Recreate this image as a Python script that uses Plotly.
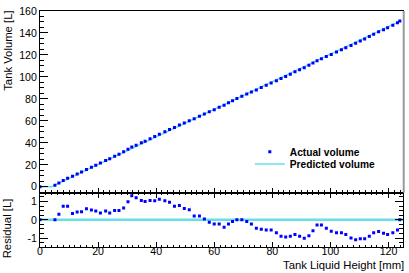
import plotly.graph_objects as go

# ---- data ----
height_mm = [0, 5.14, 6.5, 8.0, 9.5, 11.2, 12.8, 14.3, 16.0, 17.7, 19.2, 20.8, 22.6, 24.0, 25.7,
             27.2, 28.8, 30.3, 31.6, 33.1, 34.9, 36.2, 37.9, 39.5, 41.1, 43.0, 44.6, 46.3, 48.0,
             49.7, 51.4, 53.1, 54.9, 56.6, 58.3, 60.0, 61.7, 63.4, 64.9, 66.3, 67.8, 69.5, 71.2,
             72.8, 74.5, 76.2, 77.9, 79.6, 81.4, 83.0, 84.6, 86.2, 87.8, 89.4, 91.0, 92.6, 94.0,
             95.4, 96.9, 98.6, 100.3, 102.1, 103.8, 105.3, 107.1, 108.7, 110.3, 111.8, 113.4,
             114.9, 116.6, 118.3, 119.7, 121.5, 123.1, 123.9]
actual_L = [0, 1.5, 3.5, 5.8, 7.7, 9.5, 11.6, 13.4, 15.7, 17.8, 19.6, 21.6, 23.9, 25.6, 27.8,
            29.7, 31.9, 34.1, 36.1, 37.8, 40.0, 41.5, 43.7, 45.7, 47.8, 50.1, 52.1, 54.0, 56.2,
            58.1, 60.2, 62.0, 64.2, 66.2, 68.2, 70.2, 72.4, 74.3, 76.4, 78.3, 80.3, 82.4, 84.4,
            86.3, 88.2, 90.3, 92.4, 94.5, 96.6, 98.5, 100.4, 102.5, 104.6, 106.5, 108.4, 110.6,
            112.6, 114.7, 116.6, 118.5, 120.5, 122.7, 124.8, 126.6, 128.7, 130.6, 132.7, 134.5,
            136.7, 138.8, 141.0, 143.0, 144.7, 147.0, 149.2, 150.8]
residual_L = [0, 0, 0.30, 0.74, 0.74, 0.34, 0.43, 0.44, 0.60, 0.53, 0.48, 0.37, 0.48, 0.37, 0.51,
              0.51, 0.64, 0.98, 1.31, 1.20, 1.05, 0.99, 1.05, 1.03, 1.12, 1.03, 0.96, 0.74, 0.78,
              0.62, 0.55, 0.21, 0.20, 0.04, -0.14, -0.23, -0.23, -0.41, -0.23, -0.09, 0.0, 0.0,
              -0.09, -0.23, -0.46, -0.51, -0.55, -0.55, -0.71, -0.90, -0.94, -0.90, -0.80, -0.90,
              -1.01, -0.87, -0.59, -0.28, -0.28, -0.46, -0.62, -0.71, -0.71, -0.80, -0.99, -1.08,
              -1.03, -1.03, -0.90, -0.71, -0.64, -0.73, -0.80, -0.71, -0.55, 0.0]
pred_h = [0, 3.95, 123.9]
pred_L = [0, 0, 150.8]
zero_x = [0, 125]
zero_y = [0, 0]

x_ticks = [0, 20, 40, 60, 80, 100, 120]
vol_ticks = [0, 20, 40, 60, 80, 100, 120, 140, 160]
res_ticks = [-1, 0, 1]
res_tick_text = ["-1", "0", "1"]

BLUE = "#0000ff"
CYAN = "#66dfe8"
FONT = "Liberation Sans, Arial, Helvetica, sans-serif"
SPLIT = 0.2305

fig = go.Figure()
fig.add_trace(go.Scatter(x=pred_h, y=pred_L, mode="lines", name="Predicted volume",
                         line=dict(color=CYAN, width=1.5), legend="legend2",
                         xaxis="x", yaxis="y"))
fig.add_trace(go.Scatter(x=height_mm, y=actual_L, mode="markers", name="Actual volume",
                         marker=dict(symbol="square", size=3, color=BLUE, line=dict(width=0)),
                         legend="legend", xaxis="x", yaxis="y"))
fig.add_trace(go.Scatter(x=zero_x, y=zero_y, mode="lines", showlegend=False,
                         line=dict(color=CYAN, width=2.5), xaxis="x2", yaxis="y2"))
fig.add_trace(go.Scatter(x=height_mm, y=residual_L, mode="markers", showlegend=False,
                         marker=dict(symbol="square", size=3, color=BLUE, line=dict(width=0)),
                         xaxis="x2", yaxis="y2"))

common = dict(showgrid=False, zeroline=False, showline=True, linecolor="black", linewidth=1,
              ticks="inside", tickcolor="black", tickwidth=1, ticklabeloverflow="allow")

fig.update_layout(
    width=409, height=273,
    margin=dict(l=40, r=5, t=5, b=26),
    paper_bgcolor="white", plot_bgcolor="white",
    font=dict(family=FONT, size=10.6, color="black"),
    xaxis=dict(domain=[0, 1], anchor="y", range=[0, 125], tickmode="array", tickvals=x_ticks,
               showticklabels=False, ticklen=5, mirror=True,
               minor=dict(dtick=2, tick0=0, ticks="inside", ticklen=2.5, tickcolor="black"),
               **common),
    yaxis=dict(domain=[SPLIT, 1], anchor="x", range=[-5.3, 160], tickmode="array",
               tickvals=vol_ticks, ticklen=8, mirror=True,
               minor=dict(dtick=5, tick0=0, ticks="inside", ticklen=4, tickcolor="black"),
               **common),
    xaxis2=dict(domain=[0, 1], anchor="y2", range=[0, 125], tickmode="array", tickvals=x_ticks,
                ticklen=5, mirror="allticks", ticklabelstandoff=-6,
                minor=dict(dtick=2, tick0=0, ticks="inside", ticklen=2.5, tickcolor="black"),
                **common),
    yaxis2=dict(domain=[0, SPLIT], anchor="x2", range=[-1.48, 1.48], tickmode="array",
                tickvals=res_ticks, ticktext=res_tick_text, ticklen=8, mirror="allticks",
                minor=dict(dtick=0.25, tick0=0, ticks="inside", ticklen=4, tickcolor="black"),
                **common),
    legend=dict(x=0.578, y=0.404, xanchor="left", yanchor="middle", bgcolor="rgba(0,0,0,0)",
                borderwidth=0, font=dict(family=FONT, size=10.2, weight="bold")),
    legend2=dict(x=0.578, y=0.352, xanchor="left", yanchor="middle", bgcolor="rgba(0,0,0,0)",
                 borderwidth=0, font=dict(family=FONT, size=10.2, weight="bold")),
    shapes=[dict(type="line", xref="paper", yref="paper", x0=1.002, x1=1.002, y0=SPLIT, y1=1,
                 line=dict(color="#9a9a9a", width=2))],
    annotations=[
        dict(text="Tank Volume [L]", xref="paper", yref="paper", x=-0.0905, y=1.01,
             xanchor="center", yanchor="top", textangle=-90, showarrow=False,
             font=dict(size=11.3)),
        dict(text="Residual [L]", xref="paper", yref="paper", x=-0.0905, y=SPLIT - 0.015,
             xanchor="center", yanchor="top", textangle=-90, showarrow=False,
             font=dict(size=11.3)),
        dict(text="Tank Liquid Height [mm]", xref="paper", yref="paper", x=1.008, y=-0.0757,
             xanchor="right", yanchor="middle", showarrow=False, font=dict(size=11.3)),
    ],
)

fig.write_html("out.html", config={"displayModeBar": False},
               post_script="document.body.style.margin='0';document.body.style.overflow='hidden';")
